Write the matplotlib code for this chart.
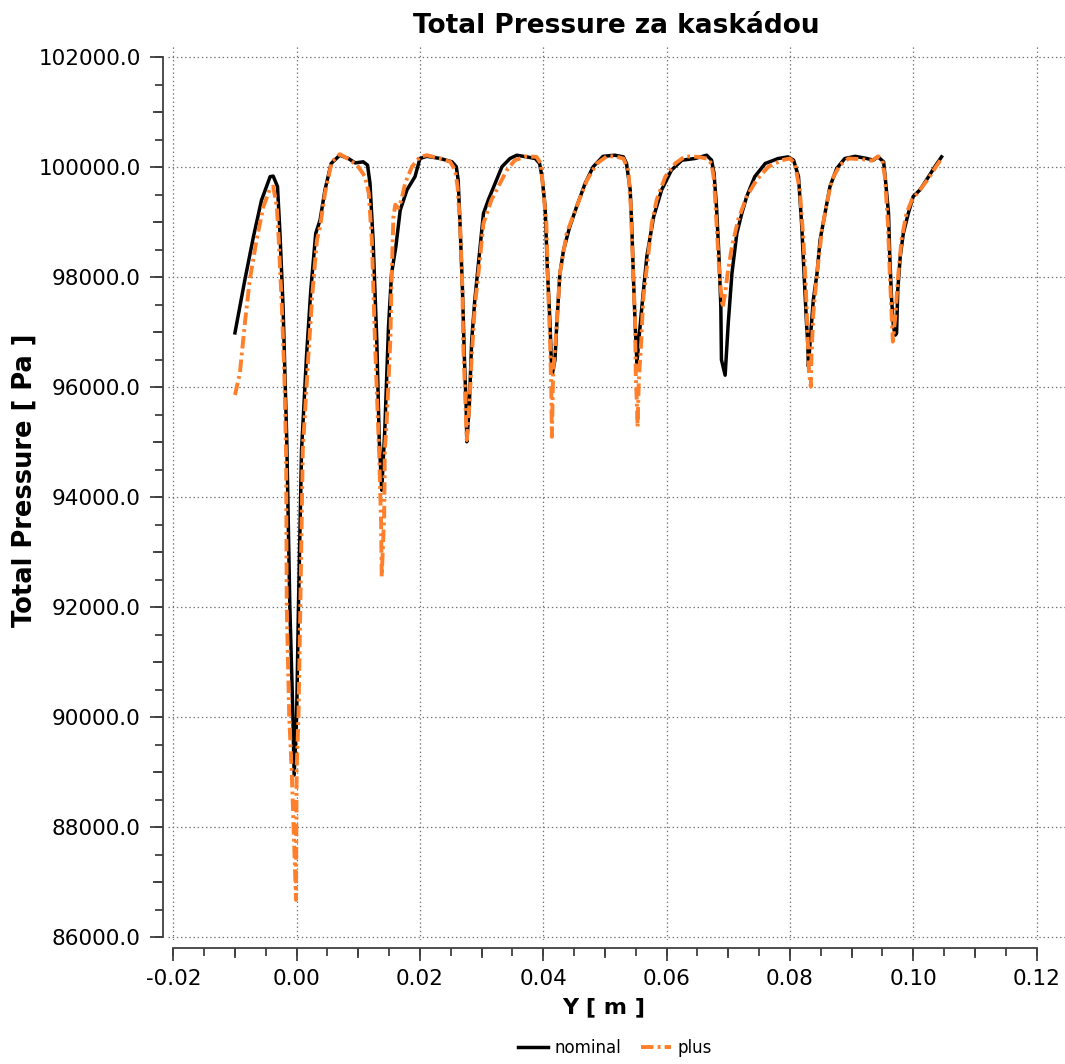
import matplotlib
matplotlib.use("Agg")
import matplotlib.pyplot as plt
from matplotlib.ticker import MultipleLocator, FormatStrFormatter, NullLocator

# Total pressure behind the cascade, nominal vs. plus case
nominal_y = [
    -0.0100, -0.0084, -0.0070, -0.0057, -0.0043, -0.0038, -0.0031, -0.0027, -0.0022, -0.0016,
    -0.0011, -0.0006, -0.0004, 0.0000, 0.0003, 0.0008, 0.0016, 0.0023, 0.0031, 0.0038,
    0.0046, 0.0056, 0.0070, 0.0084, 0.0095, 0.0108, 0.0115, 0.0119, 0.0124, 0.0130,
    0.0134, 0.0138, 0.0143, 0.0149, 0.0154, 0.0161, 0.0168, 0.0179, 0.0192, 0.0200,
    0.0211, 0.0233, 0.0252, 0.0259, 0.0262, 0.0265, 0.0269, 0.0272, 0.0275, 0.0276,
    0.0280, 0.0284, 0.0289, 0.0296, 0.0303, 0.0311, 0.0322, 0.0333, 0.0346, 0.0357,
    0.0373, 0.0387, 0.0394, 0.0398, 0.0403, 0.0407, 0.0411, 0.0413, 0.0415, 0.0419,
    0.0422, 0.0427, 0.0433, 0.0443, 0.0454, 0.0468, 0.0481, 0.0497, 0.0516, 0.0530,
    0.0535, 0.0541, 0.0544, 0.0546, 0.0549, 0.0552, 0.0555, 0.0560, 0.0568, 0.0579,
    0.0592, 0.0608, 0.0625, 0.0646, 0.0665, 0.0673, 0.0677, 0.0681, 0.0685, 0.0688,
    0.0689, 0.0695, 0.0700, 0.0706, 0.0714, 0.0722, 0.0730, 0.0743, 0.0760, 0.0781,
    0.0797, 0.0806, 0.0814, 0.0819, 0.0823, 0.0827, 0.0829, 0.0830, 0.0833, 0.0838,
    0.0844, 0.0849, 0.0857, 0.0865, 0.0876, 0.0889, 0.0906, 0.0925, 0.0935, 0.0943,
    0.0952, 0.0955, 0.0960, 0.0962, 0.0965, 0.0968, 0.0971, 0.0973, 0.0975, 0.0979,
    0.0984, 0.0992, 0.1000, 0.1011, 0.1025, 0.1035, 0.1046,
]
nominal_p = [
    96990, 97950, 98740, 99400, 99830, 99840, 99650, 98800, 97470, 95040,
    92010, 90010, 88950, 90010, 92010, 94860, 96560, 97770, 98800, 99040,
    99590, 100070, 100220, 100160, 100080, 100100, 100040, 99710, 98680, 96860,
    95040, 94130, 95220, 97100, 98070, 98560, 99220, 99590, 99830, 100160,
    100200, 100160, 100100, 100010, 99770, 98980, 97770, 96560, 95650, 95010,
    95650, 96860, 97590, 98380, 99160, 99410, 99710, 100010, 100160, 100220,
    100190, 100160, 100070, 99830, 99280, 98070, 97160, 96500, 96260, 96500,
    97160, 98070, 98500, 98920, 99280, 99710, 100010, 100200, 100220, 100190,
    100070, 99590, 98800, 98070, 97160, 96440, 96860, 97470, 98380, 99100,
    99590, 99950, 100130, 100160, 100220, 100130, 99890, 99280, 98380, 97470,
    96500, 96220, 97160, 98070, 98800, 99160, 99470, 99830, 100070, 100160,
    100190, 100130, 99830, 98980, 98070, 97160, 96800, 96380, 96860, 97590,
    98070, 98680, 99160, 99650, 99980, 100160, 100200, 100160, 100130, 100190,
    100100, 99770, 99160, 98380, 97590, 97100, 96950, 96980, 97770, 98380,
    98800, 99160, 99470, 99590, 99830, 100010, 100190,
]

plus_y = [
    -0.0100, -0.0092, -0.0084, -0.0076, -0.0065, -0.0054, -0.0043, -0.0038, -0.0032, -0.0029,
    -0.0024, -0.0020, -0.0017, -0.0016, -0.0012, -0.0008, -0.0005, -0.0001, 0.0000, 0.0003,
    0.0006, 0.0010, 0.0019, 0.0026, 0.0033, 0.0038, 0.0046, 0.0057, 0.0070, 0.0087,
    0.0100, 0.0111, 0.0117, 0.0122, 0.0127, 0.0131, 0.0134, 0.0137, 0.0138, 0.0142,
    0.0143, 0.0146, 0.0152, 0.0154, 0.0157, 0.0160, 0.0165, 0.0170, 0.0176, 0.0187,
    0.0200, 0.0211, 0.0233, 0.0249, 0.0257, 0.0261, 0.0265, 0.0269, 0.0270, 0.0273,
    0.0276, 0.0280, 0.0284, 0.0289, 0.0296, 0.0303, 0.0316, 0.0330, 0.0341, 0.0354,
    0.0373, 0.0389, 0.0396, 0.0400, 0.0405, 0.0408, 0.0411, 0.0413, 0.0414, 0.0416,
    0.0422, 0.0427, 0.0438, 0.0454, 0.0471, 0.0487, 0.0503, 0.0516, 0.0530, 0.0538,
    0.0542, 0.0546, 0.0549, 0.0550, 0.0552, 0.0553, 0.0555, 0.0559, 0.0562, 0.0568,
    0.0576, 0.0584, 0.0598, 0.0614, 0.0630, 0.0651, 0.0665, 0.0673, 0.0677, 0.0681,
    0.0685, 0.0688, 0.0691, 0.0695, 0.0699, 0.0706, 0.0716, 0.0730, 0.0746, 0.0765,
    0.0787, 0.0800, 0.0808, 0.0816, 0.0822, 0.0826, 0.0829, 0.0831, 0.0834, 0.0835,
    0.0838, 0.0844, 0.0852, 0.0860, 0.0868, 0.0881, 0.0895, 0.0916, 0.0933, 0.0943,
    0.0950, 0.0954, 0.0959, 0.0962, 0.0965, 0.0967, 0.0971, 0.0975, 0.0981, 0.0989,
    0.0998, 0.1011, 0.1025, 0.1035, 0.1046,
]
plus_p = [
    95860, 96260, 97160, 97950, 98680, 99280, 99620, 99650, 99280, 98680,
    97470, 96260, 94740, 92010, 90010, 89040, 88010, 86680, 89040, 90010,
    92010, 94860, 96560, 97770, 98680, 98920, 99530, 100100, 100240, 100130,
    100010, 99830, 99530, 98680, 96860, 95650, 94740, 93530, 92560, 93650,
    94860, 95350, 96860, 97950, 99100, 99320, 99260, 99410, 99710, 100010,
    100190, 100220, 100160, 100100, 99950, 99650, 98980, 97770, 96860, 95950,
    95040, 95650, 96560, 97470, 98190, 98980, 99410, 99710, 99950, 100130,
    100200, 100190, 100070, 99590, 98980, 97770, 96860, 95950, 95100, 96260,
    97160, 98070, 98800, 99280, 99770, 100070, 100200, 100200, 100160, 99950,
    99280, 98070, 97160, 96260, 95650, 95280, 96130, 96860, 97590, 98190,
    98980, 99410, 99830, 100070, 100200, 100190, 100160, 100070, 99770, 98980,
    98190, 97770, 97450, 97710, 98070, 98560, 99040, 99470, 99770, 100010,
    100130, 100160, 100070, 99590, 98680, 97770, 96860, 96260, 96010, 96560,
    97350, 98070, 98860, 99350, 99770, 100040, 100160, 100150, 100120, 100200,
    100130, 99830, 98980, 98070, 97350, 96830, 97280, 97950, 98680, 99160,
    99410, 99590, 99800, 99980, 100160,
]

plt.rcParams['font.family'] = ['DejaVu Sans']
plt.rcParams['lines.scale_dashes'] = False

AXIS_GREY = '#404040'

fig = plt.figure(figsize=(10.65, 10.64), dpi=100)
ax = fig.add_axes([168 / 1065, 1 - 940 / 1064, 897 / 1065, 895 / 1064])

ax.plot(nominal_y, nominal_p, color='black', linewidth=2.5, label='nominal', zorder=3)
ax.plot(plus_y, plus_p, color='#ff7f2a', linewidth=2.8, linestyle=(0, (9, 3, 2, 3)),
        label='plus', zorder=4)

ax.set_xlim(-0.02086, 0.12462)
ax.set_ylim(85951, 102224)

ax.xaxis.set_major_locator(MultipleLocator(0.02))
ax.xaxis.set_minor_locator(MultipleLocator(0.01))
ax.yaxis.set_major_locator(MultipleLocator(2000))
ax.yaxis.set_minor_locator(MultipleLocator(1000))
ax.xaxis.set_major_formatter(FormatStrFormatter('%.2f'))
ax.yaxis.set_major_formatter(FormatStrFormatter('%.1f'))

for side in ['top', 'right']:
    ax.spines[side].set_visible(False)
ax.spines['left'].set_position(('outward', 3.6))
ax.spines['bottom'].set_position(('outward', 5.8))
ax.spines['left'].set_bounds(86000, 102000)
ax.spines['bottom'].set_bounds(-0.02, 0.12)
for side in ['left', 'bottom']:
    ax.spines[side].set_color(AXIS_GREY)
    ax.spines[side].set_linewidth(1.3)

ax.tick_params(which='major', length=9.1, width=1.3, color=AXIS_GREY, labelsize=15.5, pad=6)
ax.tick_params(which='minor', length=7.2, width=1.3, color=AXIS_GREY)
ax.tick_params(axis='y', which='major', pad=7)

# shortest ticks at the quarter steps live on secondary axes sitting on the spines
sec_y = ax.secondary_yaxis(-5 / 897)
sec_y.yaxis.set_major_locator(NullLocator())
sec_y.yaxis.set_minor_locator(MultipleLocator(500))
sec_y.spines['left'].set_visible(False)
sec_y.tick_params(which='minor', length=5.5, width=1.3, color=AXIS_GREY)

sec_x = ax.secondary_xaxis(-8 / 895)
sec_x.xaxis.set_major_locator(NullLocator())
sec_x.xaxis.set_minor_locator(MultipleLocator(0.005))
sec_x.spines['bottom'].set_visible(False)
sec_x.tick_params(which='minor', length=5.5, width=1.3, color=AXIS_GREY)

ax.grid(True, which='major', color='#707070', linestyle=(0, (1, 2)), linewidth=0.9)
ax.set_axisbelow(True)

ax.set_title('Total Pressure za kaskádou', fontsize=19, fontweight='bold', pad=9)
ax.set_xlabel('Y [ m ]', fontsize=16, fontweight='bold')
ax.xaxis.set_label_coords(0.486, -0.0637)
ax.set_ylabel('Total Pressure [ Pa ]', fontsize=18.5, fontweight='bold')
ax.yaxis.set_label_coords(-0.145, 0.514)

fig.legend(loc='center', bbox_to_anchor=(615 / 1065, 1 - 1048 / 1064), ncol=2,
           frameon=False, fontsize=12, handlelength=1.8, handletextpad=0.4,
           columnspacing=1.2)

fig.savefig('out.png', dpi=100)
